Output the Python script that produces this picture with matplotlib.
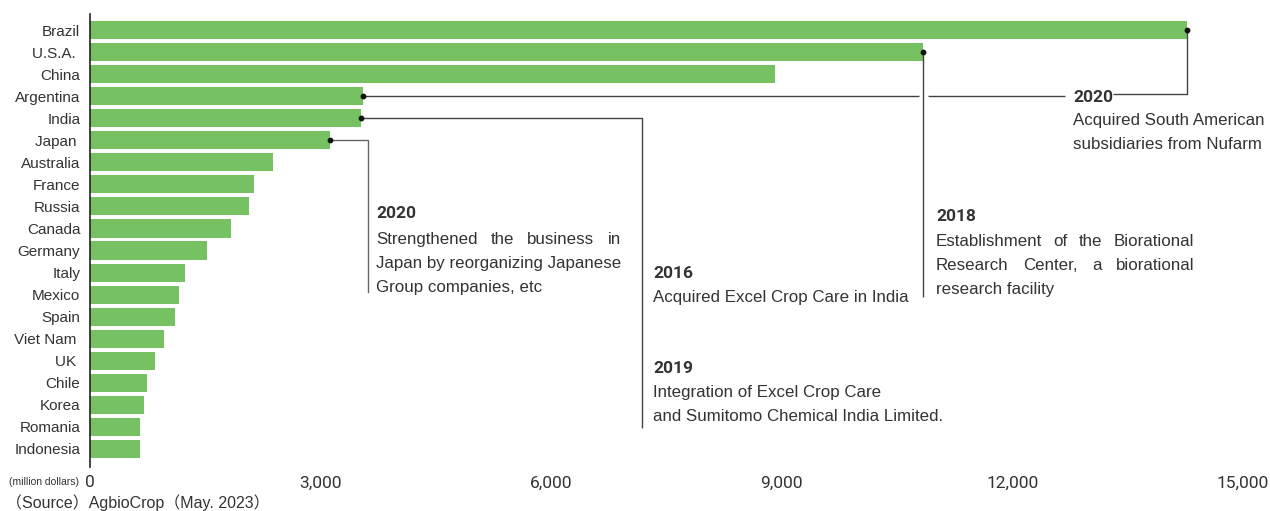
import matplotlib
matplotlib.use("Agg")
import matplotlib.pyplot as plt

countries = ["Brazil", "U.S.A. ", "China", "Argentina", "India", "Japan ", "Australia",
             "France", "Russia", "Canada", "Germany", "Italy", "Mexico", "Spain",
             "Viet Nam ", "UK ", "Chile", "Korea", "Romania", "Indonesia"]
values = [14270, 10840, 8910, 3550, 3520, 3120, 2380, 2130, 2070, 1840,
          1520, 1230, 1155, 1100, 960, 845, 740, 700, 647, 647]
xticks = [0, 3000, 6000, 9000, 12000, 15000]
xtick_labels = ["0", "3,000", "6,000", "9,000", "12,000", "15,000"]

GREEN = "#76C263"
TXT = "#333333"
LINE = "#444444"

fig = plt.figure(figsize=(12.7, 5.11), dpi=100)
ax = fig.add_axes([90 / 1270, 1 - 467 / 511, 1153 / 1270, (467 - 14) / 511])

ypos = list(range(len(countries)))
ax.barh(ypos, values, height=0.82, color=GREEN, zorder=2)
ax.set_xlim(0, 15000)
ax.set_ylim(19.82, -0.73)
ax.set_yticks(ypos)
ax.set_yticklabels(countries, fontsize=11, color=TXT, family="Liberation Sans")
ax.set_xticks(xticks)
ax.set_xticklabels(xtick_labels, fontsize=12.5, color=TXT, family="Roboto")
ax.tick_params(axis="y", length=0, pad=7)
ax.tick_params(axis="x", length=0, pad=6)
for s in ["top", "right", "bottom"]:
    ax.spines[s].set_visible(False)
ax.spines["left"].set_color("#222222")
ax.spines["left"].set_linewidth(1.2)

fig.text(9 / 1270, 1 - 482 / 511, "(million dollars)", fontsize=7.5, color=TXT,
         family="Liberation Sans", va="center", ha="left")
fig.text(6 / 1270, 1 - 503 / 511, "（Source）AgbioCrop（May. 2023）", fontsize=11.5,
         color=TXT, family=["Liberation Sans", "Noto Sans CJK JP"], va="center", ha="left")

lkw = dict(color=LINE, lw=1.0, zorder=3, solid_capstyle="butt")
dkw = dict(marker="o", color="#111111", markersize=3.2, zorder=4, linestyle="none")

# Brazil connector
b = values[0]
ax.plot([b, b, 13309], [0, 2.92, 2.92], **lkw)
ax.plot([b], [0], **dkw)
# Argentina connector (passes behind USA line with a gap)
a = values[3]
u = values[1]
ax.plot([a, u - 55], [3, 3], **lkw)
ax.plot([u + 65, 12685], [3, 3], **lkw)
ax.plot([a], [3], **dkw)
# USA connector
ax.plot([u, u], [1, 12.1], **lkw)
ax.plot([u], [1], **dkw)
# India connector
i_ = values[4]
ax.plot([i_, 7178, 7178], [4, 4, 18.05], **lkw)
ax.plot([i_], [4], **dkw)
# Japan connector
j = values[5]
ax.plot([j, 3617, 3617], [5, 5, 11.88], color="#666666", lw=1.0, zorder=3)
ax.plot([j], [5], **dkw)

YEAR = dict(fontsize=12.5, fontweight="bold", color=TXT, family="Roboto",
            va="center", ha="left")
BODY = dict(fontsize=12.2, color=TXT, family="Liberation Sans", va="center", ha="left")

fig.canvas.draw()
renderer = fig.canvas.get_renderer()


def justified(x0, y, text, x1):
    words = text.split()
    arts = [ax.text(x0, y, w, **BODY) for w in words]
    widths = [t.get_window_extent(renderer).width for t in arts]
    px0 = ax.transData.transform((x0, y))[0]
    px1 = ax.transData.transform((x1, y))[0]
    gap = (px1 - px0 - sum(widths)) / (len(words) - 1)
    cur = px0
    inv = ax.transData.inverted()
    for t, w in zip(arts, widths):
        t.set_x(inv.transform((cur, 0))[0])
        cur += w + gap


# Brazil / Argentina annotation
ax.text(12789, 3.04, "2020", **YEAR)
ax.text(12789, 4.08, "Acquired South American", **BODY)
ax.text(12789, 5.17, "subsidiaries from Nufarm", **BODY)

# USA annotation
ax.text(11006, 8.44, "2018", **YEAR)
justified(11006, 9.57, "Establishment of the Biorational", 14363)
justified(11006, 10.66, "Research Center, a biorational", 14363)
ax.text(11006, 11.79, "research facility", **BODY)

# India annotations
ax.text(7325, 11.02, "2016", **YEAR)
ax.text(7325, 12.11, "Acquired Excel Crop Care in India", **BODY)
ax.text(7325, 15.37, "2019", **YEAR)
ax.text(7325, 16.46, "Integration of Excel Crop Care", **BODY)
ax.text(7325, 17.55, "and Sumitomo Chemical India Limited.", **BODY)

# Japan annotation
ax.text(3721, 8.34, "2020", **YEAR)
justified(3721, 9.48, "Strengthened the business in", 6908)
ax.text(3721, 10.57, "Japan by reorganizing Japanese", **BODY)
ax.text(3721, 11.66, "Group companies, etc", **BODY)

fig.savefig("out.png", dpi=100)
